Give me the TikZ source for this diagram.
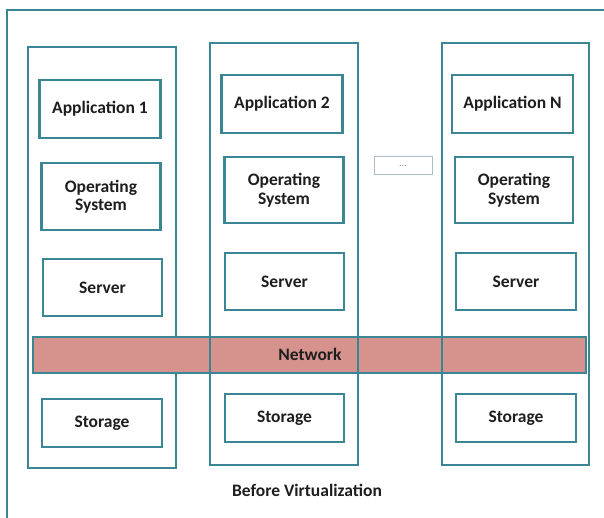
\documentclass[tikz,border=0pt]{standalone}
\usepackage{fontspec}
\setmainfont{Carlito}
\definecolor{teal1}{RGB}{58,134,148}
\definecolor{netfill}{RGB}{214,146,141}
\definecolor{dotbox}{RGB}{170,190,196}
\definecolor{txt}{RGB}{30,30,30}
\tikzset{
  col/.style={draw=teal1, line width=2.2pt},
  layer/.style={draw=teal1, line width=2.4pt, fill=white, text=txt, font=\fontsize{17.5}{18.5}\selectfont\bfseries, align=center, inner sep=0pt},
  net/.style={draw=teal1, line width=2.4pt, fill=netfill, text=txt, inner sep=0pt},
  lbl/.style={text=txt, font=\fontsize{17.5}{18.5}\selectfont\bfseries},
}
\begin{document}
\begin{tikzpicture}[x=1pt,y=-1pt]
\useasboundingbox[fill=white] (0,0) rectangle (604,518);
% outer frame (top and left edges only)
\draw[teal1, line width=2.2pt] (7,518) -- (7,10) -- (604,10);
% column 1
\node[col, minimum width=148pt, minimum height=421pt, inner sep=0pt] (c1) at (102,257.5) {};
\node[layer, minimum width=121pt, minimum height=58pt] (a1) at (100,109) {Application 1};
\node[layer, minimum width=119pt, minimum height=67pt] (o1) at (101,196.5) {Operating\\System};
\node[layer, minimum width=119pt, minimum height=57pt] (s1) at (102.5,287.5) {Server};
\node[layer, minimum width=120pt, minimum height=48pt] (st1) at (102,423) {Storage};
% network
\node[net, minimum width=553pt, minimum height=36pt] (net) at (309.5,355) {};
\node[lbl] (nett) at (310,354) {Network};
% column 2
\node[col, minimum width=148pt, minimum height=422pt, inner sep=0pt] (c2) at (284,254) {};
\node[layer, minimum width=121pt, minimum height=58pt] (a2) at (282,104) {Application 2};
\node[layer, minimum width=119pt, minimum height=66pt] (o2) at (284,190) {Operating\\System};
\node[layer, minimum width=119pt, minimum height=57pt] (s2) at (284.5,281.5) {Server};
\node[layer, minimum width=119pt, minimum height=48pt] (st2) at (284.5,418) {Storage};
% dots box
\node[draw=dotbox, line width=1pt, minimum width=58pt, minimum height=18pt, inner sep=0pt, text=gray, font=\normalsize] (dots) at (403,166) {...};
% column 3
\node[col, minimum width=147pt, minimum height=422pt, inner sep=0pt] (c3) at (515.5,254) {};
\node[layer, minimum width=121pt, minimum height=58pt] (a3) at (512.5,104) {Application N};
\node[layer, minimum width=118pt, minimum height=66pt] (o3) at (514,190) {Operating\\System};
\node[layer, minimum width=120pt, minimum height=57pt] (s3) at (516,281.5) {Server};
\node[layer, minimum width=120pt, minimum height=48pt] (st3) at (516,418) {Storage};
% caption
\node[lbl] (cap) at (307,490) {Before Virtualization};
\end{tikzpicture}
\end{document}
